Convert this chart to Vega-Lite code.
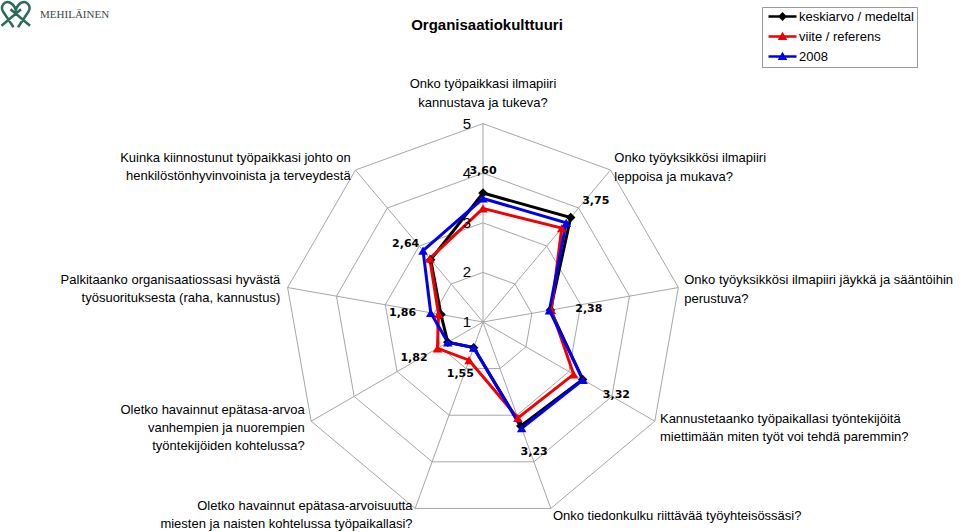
{
  "$schema": "https://vega.github.io/schema/vega-lite/v6.json",
  "width": 960,
  "height": 532,
  "padding": 0,
  "autosize": {"type": "none"},
  "background": "white",
  "config": {"view": {"stroke": null}, "font": "Liberation Sans"},
  "title": {"text": "Organisaatiokulttuuri", "font": "Liberation Sans", "fontSize": 15, "fontWeight": "bold", "color": "#000000", "anchor": "middle", "frame": "group", "offset": -36, "dx": 7},
  "datasets": {
    "axes": [
      {"k": 0, "label": ["Onko työpaikkasi ilmapiiri", "kannustava ja tukeva?"]},
      {"k": 1, "label": ["Onko työyksikkösi ilmapiiri", "leppoisa ja mukava?"]},
      {"k": 2, "label": ["Onko työyksikkösi ilmapiiri jäykkä ja sääntöihin", "perustuva?"]},
      {"k": 3, "label": ["Kannustetaanko työpaikallasi työntekijöitä", "miettimään miten työt voi tehdä paremmin?"]},
      {"k": 4, "label": ["Onko tiedonkulku riittävää työyhteisössäsi?"]},
      {"k": 5, "label": ["Oletko havainnut epätasa-arvoisuutta", "miesten ja naisten kohtelussa työpaikallasi?"]},
      {"k": 6, "label": ["Oletko havainnut epätasa-arvoa", "vanhempien ja nuorempien", "työntekijöiden kohtelussa?"]},
      {"k": 7, "label": ["Palkitaanko organisaatiossasi hyvästä", "työsuorituksesta (raha, kannustus)"]},
      {"k": 8, "label": ["Kuinka kiinnostunut työpaikkasi johto on", "henkilöstönhyvinvoinista ja terveydestä"]}
    ],
    "series": [
      {"k": 0, "series": "keskiarvo / medeltal", "value": 3.60},
      {"k": 1, "series": "keskiarvo / medeltal", "value": 3.75},
      {"k": 2, "series": "keskiarvo / medeltal", "value": 2.38},
      {"k": 3, "series": "keskiarvo / medeltal", "value": 3.32},
      {"k": 4, "series": "keskiarvo / medeltal", "value": 3.23},
      {"k": 5, "series": "keskiarvo / medeltal", "value": 1.55},
      {"k": 6, "series": "keskiarvo / medeltal", "value": 1.82},
      {"k": 7, "series": "keskiarvo / medeltal", "value": 1.86},
      {"k": 8, "series": "keskiarvo / medeltal", "value": 2.64},
      {"k": 0, "series": "viite / referens", "value": 3.29},
      {"k": 1, "series": "viite / referens", "value": 3.47},
      {"k": 2, "series": "viite / referens", "value": 2.40},
      {"k": 3, "series": "viite / referens", "value": 3.11},
      {"k": 4, "series": "viite / referens", "value": 3.06},
      {"k": 5, "series": "viite / referens", "value": 1.82},
      {"k": 6, "series": "viite / referens", "value": 2.06},
      {"k": 7, "series": "viite / referens", "value": 1.91},
      {"k": 8, "series": "viite / referens", "value": 2.67},
      {"k": 0, "series": "2008", "value": 3.49},
      {"k": 1, "series": "2008", "value": 3.61},
      {"k": 2, "series": "2008", "value": 2.36},
      {"k": 3, "series": "2008", "value": 3.33},
      {"k": 4, "series": "2008", "value": 3.28},
      {"k": 5, "series": "2008", "value": 1.55},
      {"k": 6, "series": "2008", "value": 1.82},
      {"k": 7, "series": "2008", "value": 2.07},
      {"k": 8, "series": "2008", "value": 2.88}
    ],
    "levels": [{"v": 1}, {"v": 2}, {"v": 3}, {"v": 4}, {"v": 5}],
    "brand": [{"name": "MEHILÄINEN"}]
  },
  "layer": [
    {
      "data": {"name": "axes"},
      "transform": [
        {"calculate": "[2,3,4,5]", "as": "lv"},
        {"flatten": ["lv"]},
        {"calculate": "datum.k*2*PI/9", "as": "a"},
        {"calculate": "(datum.lv-1)*sin(datum.a)", "as": "px"},
        {"calculate": "(datum.lv-1)*cos(datum.a)", "as": "py"}
      ],
      "mark": {"type": "line", "interpolate": "linear-closed", "stroke": "#a6a6a6", "strokeWidth": 1},
      "encoding": {
        "x": {"field": "px", "type": "quantitative", "scale": {"domain": [-9.738, 9.617], "nice": false, "zero": false}, "axis": null},
        "y": {"field": "py", "type": "quantitative", "scale": {"domain": [-4.234, 6.492], "nice": false, "zero": false}, "axis": null},
        "detail": {"field": "lv", "type": "nominal"},
        "order": {"field": "k", "type": "quantitative"}
      }
    },
    {
      "data": {"name": "axes"},
      "transform": [
        {"calculate": "datum.k*2*PI/9", "as": "a"},
        {"calculate": "4*sin(datum.a)", "as": "px"},
        {"calculate": "4*cos(datum.a)", "as": "py"}
      ],
      "mark": {"type": "rule", "stroke": "#a6a6a6", "strokeWidth": 1},
      "encoding": {
        "x": {"field": "px", "type": "quantitative"},
        "y": {"field": "py", "type": "quantitative"},
        "x2": {"datum": 0},
        "y2": {"datum": 0}
      }
    },
    {
      "data": {"name": "series"},
      "transform": [
        {"calculate": "datum.k*2*PI/9", "as": "a"},
        {"calculate": "(datum.value-1)*sin(datum.a)", "as": "px"},
        {"calculate": "(datum.value-1)*cos(datum.a)", "as": "py"}
      ],
      "mark": {"type": "line", "interpolate": "linear-closed", "strokeWidth": 3},
      "encoding": {
        "x": {"field": "px", "type": "quantitative"},
        "y": {"field": "py", "type": "quantitative"},
        "color": {"field": "series", "type": "nominal", "scale": {"domain": ["keskiarvo / medeltal", "viite / referens", "2008"], "range": ["#000000", "#f00000", "#0000f0"]},
          "legend": {"title": null, "orient": "none", "legendX": 762, "legendY": 7, "padding": 3, "strokeColor": "#999999", "fillColor": "white", "labelFont": "Liberation Sans", "labelFontSize": 13, "labelColor": "#000000", "symbolSize": 64, "symbolOffset": 11, "labelOffset": 10, "rowPadding": 6,
            "encode": {"symbols": {"update": {
              "shape": {"signal": "datum.value === 'keskiarvo / medeltal' ? 'M-3.5,-0.32L3.5,-0.32L3.5,0.32L-3.5,0.32ZM0,-1.1L1.1,0L0,1.1L-1.1,0Z' : 'M-3.5,-0.32L3.5,-0.32L3.5,0.32L-3.5,0.32ZM0,-1.2L1.2,0.9L-1.2,0.9Z'"},
              "fill": {"scale": "color", "field": "value"},
              "fillOpacity": {"value": 1},
              "opacity": {"value": 1},
              "strokeWidth": {"value": 0},
              "size": {"value": 64}
            }}}}},
        "order": {"field": "k", "type": "quantitative"}
      }
    },
    {
      "data": {"name": "series"},
      "transform": [
        {"filter": "datum.series === 'keskiarvo / medeltal'"},
        {"calculate": "datum.k*2*PI/9", "as": "a"},
        {"calculate": "(datum.value-1)*sin(datum.a)", "as": "px"},
        {"calculate": "(datum.value-1)*cos(datum.a)", "as": "py"}
      ],
      "mark": {"type": "point", "filled": true, "opacity": 1, "size": 90, "shape": "diamond", "color": "#000000"},
      "encoding": {
        "x": {"field": "px", "type": "quantitative"},
        "y": {"field": "py", "type": "quantitative"}
      }
    },
    {
      "data": {"name": "series"},
      "transform": [
        {"filter": "datum.series === 'viite / referens'"},
        {"calculate": "datum.k*2*PI/9", "as": "a"},
        {"calculate": "(datum.value-1)*sin(datum.a)", "as": "px"},
        {"calculate": "(datum.value-1)*cos(datum.a)", "as": "py"}
      ],
      "mark": {"type": "point", "filled": true, "opacity": 1, "size": 90, "shape": "triangle-up", "color": "#f00000"},
      "encoding": {
        "x": {"field": "px", "type": "quantitative"},
        "y": {"field": "py", "type": "quantitative"}
      }
    },
    {
      "data": {"name": "series"},
      "transform": [
        {"filter": "datum.series === '2008'"},
        {"calculate": "datum.k*2*PI/9", "as": "a"},
        {"calculate": "(datum.value-1)*sin(datum.a)", "as": "px"},
        {"calculate": "(datum.value-1)*cos(datum.a)", "as": "py"}
      ],
      "mark": {"type": "point", "filled": true, "opacity": 1, "size": 90, "shape": "triangle-up", "color": "#0000f0"},
      "encoding": {
        "x": {"field": "px", "type": "quantitative"},
        "y": {"field": "py", "type": "quantitative"}
      }
    },
    {
      "data": {"name": "series"},
      "transform": [
        {"filter": "datum.series === 'keskiarvo / medeltal'"},
        {"calculate": "datum.k*2*PI/9", "as": "a"},
        {"calculate": "(datum.value-1)*sin(datum.a) + 39/49.6*sin(datum.a)", "as": "px"},
        {"calculate": "(datum.value-1)*cos(datum.a) + 25/49.6*cos(datum.a) - 3/49.6", "as": "py"},
        {"calculate": "replace(format(datum.value, '.2f'), '.', ',')", "as": "txt"}
      ],
      "mark": {"type": "text", "font": "DejaVu Sans", "fontSize": 11, "fontWeight": "bold", "color": "#000000", "align": "center", "baseline": "middle"},
      "encoding": {
        "x": {"field": "px", "type": "quantitative"},
        "y": {"field": "py", "type": "quantitative"},
        "text": {"field": "txt", "type": "nominal"}
      }
    },
    {
      "data": {"name": "axes"},
      "transform": [
        {"filter": "datum.k === 0"},
        {"calculate": "4.15 + (13 + (length(datum.label)-1)*19)/49.6", "as": "py"}
      ],
      "mark": {"type": "text", "font": "Liberation Sans", "fontSize": 13, "lineHeight": 19, "color": "#000000", "align": "center", "baseline": "middle"},
      "encoding": {
        "x": {"datum": 0},
        "y": {"field": "py", "type": "quantitative"},
        "text": {"field": "label"}
      }
    },
    {
      "data": {"name": "axes"},
      "transform": [
        {"filter": "datum.k >= 1 && datum.k <= 4"},
        {"calculate": "datum.k*2*PI/9", "as": "a"},
        {"calculate": "4.12*sin(datum.a)", "as": "px"},
        {"calculate": "4.15*cos(datum.a) + ((cos(datum.a) < -0.9 ? -1 : -3) + (length(datum.label)-1)*9.25)/49.6", "as": "py"}
      ],
      "mark": {"type": "text", "font": "Liberation Sans", "fontSize": 13, "lineHeight": 18.5, "color": "#000000", "align": "left", "baseline": "middle"},
      "encoding": {
        "x": {"field": "px", "type": "quantitative"},
        "y": {"field": "py", "type": "quantitative"},
        "text": {"field": "label"}
      }
    },
    {
      "data": {"name": "axes"},
      "transform": [
        {"filter": "datum.k >= 5"},
        {"calculate": "datum.k*2*PI/9", "as": "a"},
        {"calculate": "4.15*sin(datum.a)", "as": "px"},
        {"calculate": "4.15*cos(datum.a) + ((cos(datum.a) < -0.9 ? 0 : -3) + (length(datum.label)-1)*9)/49.6", "as": "py"}
      ],
      "mark": {"type": "text", "font": "Liberation Sans", "fontSize": 13, "lineHeight": 18, "color": "#000000", "align": "right", "baseline": "middle"},
      "encoding": {
        "x": {"field": "px", "type": "quantitative"},
        "y": {"field": "py", "type": "quantitative"},
        "text": {"field": "label"}
      }
    },
    {
      "data": {"name": "levels"},
      "transform": [{"calculate": "datum.v - 1", "as": "py"}],
      "mark": {"type": "text", "font": "Liberation Sans", "fontSize": 15, "color": "#000000", "align": "right", "baseline": "middle", "dx": -12},
      "encoding": {
        "x": {"datum": 0},
        "y": {"field": "py", "type": "quantitative"},
        "text": {"field": "v", "type": "nominal"}
      }
    },
    {
      "data": {"name": "brand"},
      "mark": {"type": "point", "filled": false, "stroke": "#2e6b55", "strokeWidth": 2.5, "size": 900, "opacity": 1,
        "shape": "M-0.15,0.85 L-0.85,-0.2 C-1.05,-0.55 -0.75,-0.95 -0.4,-0.8 C-0.15,-0.7 -0.05,-0.45 0,-0.3 C0.05,-0.45 0.15,-0.7 0.4,-0.8 C0.75,-0.95 1.05,-0.55 0.85,-0.2 L0.15,0.85 M-0.95,0.75 L0.35,-0.35 M0.95,0.75 L-0.35,-0.35"},
      "encoding": {
        "x": {"datum": -9.42},
        "y": {"datum": 6.2}
      }
    },
    {
      "data": {"name": "brand"},
      "mark": {"type": "text", "font": "Liberation Serif", "fontSize": 11, "color": "#3a4a44", "align": "left", "baseline": "middle"},
      "encoding": {
        "x": {"datum": -8.93},
        "y": {"datum": 6.19},
        "text": {"field": "name", "type": "nominal"}
      }
    }
  ]
}
